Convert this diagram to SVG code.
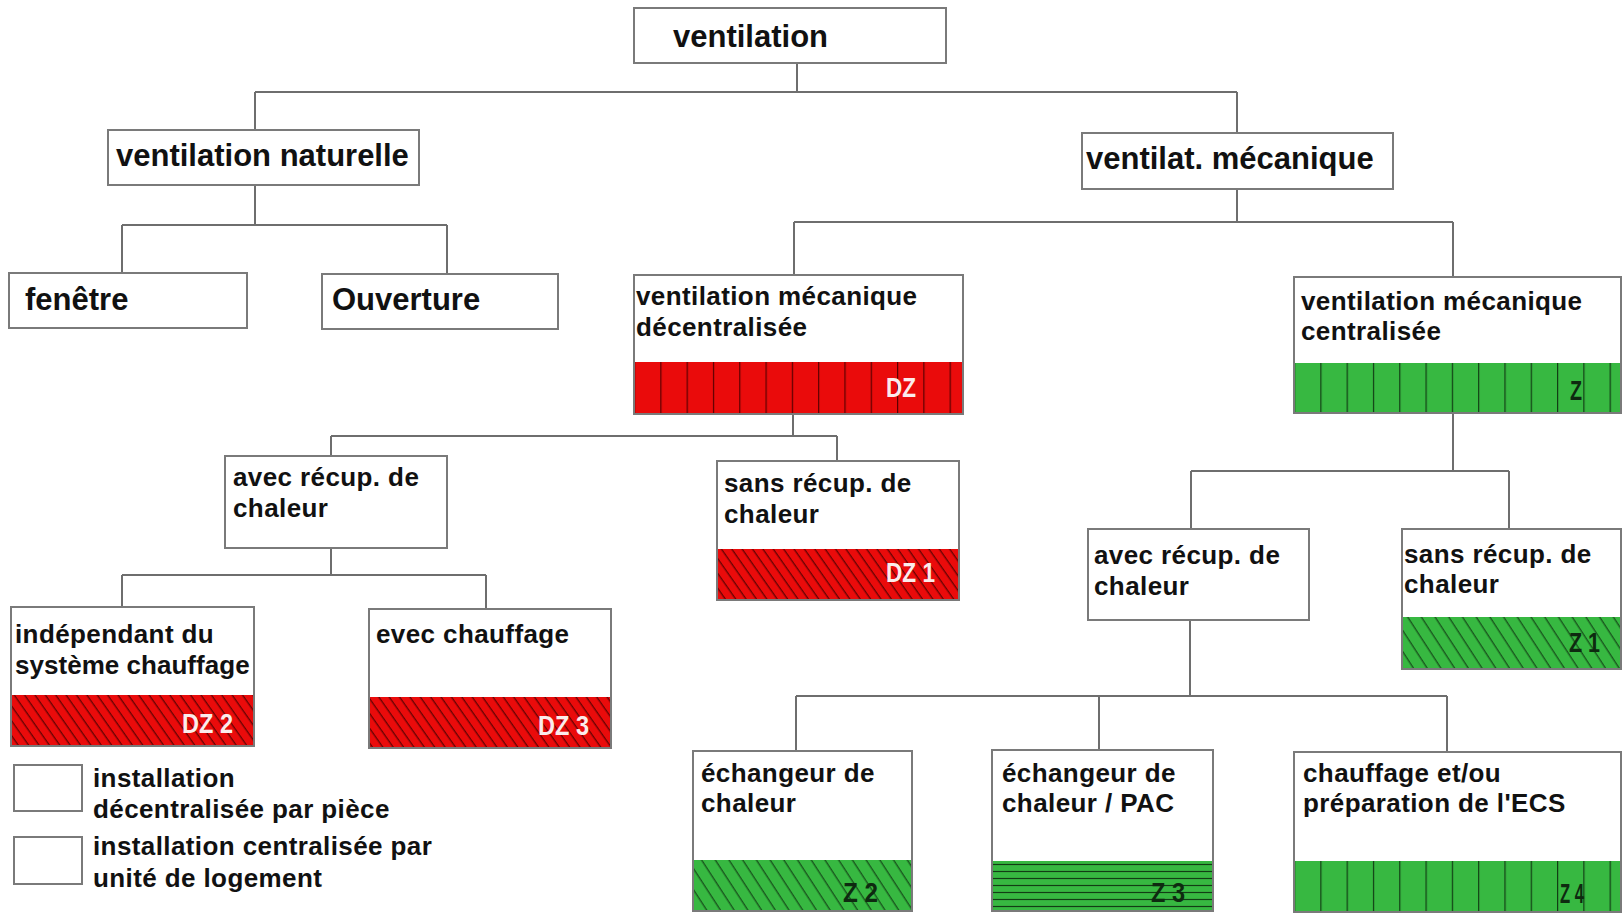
<svg xmlns="http://www.w3.org/2000/svg" width="1623" height="915" viewBox="0 0 1623 915">
<style>
.box{fill:#fff;stroke:#7a7a7a;stroke-width:2}
.conn{fill:none;stroke:#6e6e6e;stroke-width:2}
.t1{font-family:"Liberation Sans",Arial,sans-serif;font-weight:bold;font-size:31px;fill:#111}
.t2{font-family:"Liberation Sans",Arial,sans-serif;font-weight:bold;font-size:26px;letter-spacing:0.4px;fill:#111}
.cw{font-family:"Liberation Sans",Arial,sans-serif;font-weight:bold;font-size:27px;fill:#fbecec}
.cg{font-family:"Liberation Sans",Arial,sans-serif;font-weight:bold;font-size:27px;fill:#0e2a10}
</style>
<defs>
<pattern id="vsR" x="634" y="0" width="26.3" height="20" patternUnits="userSpaceOnUse">
<rect width="26.3" height="20" fill="#ea0b0b"/><line x1="0.6" y1="0" x2="0.6" y2="20" stroke="#5a0000" stroke-width="1.2"/>
</pattern>
<pattern id="vsG" x="1294" y="0" width="26.3" height="20" patternUnits="userSpaceOnUse">
<rect width="26.3" height="20" fill="#37b841"/><line x1="0.6" y1="0" x2="0.6" y2="20" stroke="#123d14" stroke-width="1.2"/>
</pattern>
<pattern id="hsG" x="0" y="861" width="20" height="7" patternUnits="userSpaceOnUse">
<rect width="20" height="7" fill="#37b841"/><line x1="0" y1="3.5" x2="20" y2="3.5" stroke="#123d14" stroke-width="1.2"/>
</pattern>
<pattern id="hR" width="8.5" height="8.5" patternUnits="userSpaceOnUse" patternTransform="rotate(-35)">
<rect width="8.5" height="8.5" fill="#ea0b0b"/><line x1="4" y1="0" x2="4" y2="8.5" stroke="#4a0000" stroke-width="1.1"/>
</pattern>
<pattern id="hG" width="11.5" height="11.5" patternUnits="userSpaceOnUse" patternTransform="rotate(-33)">
<rect width="11.5" height="11.5" fill="#37b841"/><line x1="5" y1="0" x2="5" y2="11.5" stroke="#123d14" stroke-width="1.1"/>
</pattern>
</defs>
<rect width="1623" height="915" fill="#fff"/>

<g id="connectors" class="conn">
<path d="M797,63 V92 M255,92 H1237 M255,92 V130 M1237,92 V133"/>
<path d="M255,185 V225 M122,225 H447 M122,225 V273 M447,225 V274"/>
<path d="M1237,189 V222 M794,222 H1453 M794,222 V275 M1453,222 V277"/>
<path d="M793,414 V436 M331,436 H837 M331,436 V456 M837,436 V461"/>
<path d="M331,548 V575 M122,575 H486 M122,575 V607 M486,575 V609"/>
<path d="M1453,413 V471 M1191,471 H1509 M1191,471 V529 M1509,471 V529"/>
<path d="M1190,620 V696 M796,696 H1447 M796,696 V751 M1099,696 V750 M1447,696 V752"/>
</g>

<g id="n-ventilation">
<rect class="box" x="634" y="8" width="312" height="55"/>
<text class="t1" x="673" y="47">ventilation</text>
</g>
<g id="n-naturelle">
<rect class="box" x="108" y="130" width="311" height="55"/>
<text class="t1" x="116" y="166">ventilation naturelle</text>
</g>
<g id="n-mecanique">
<rect class="box" x="1082" y="133" width="311" height="56"/>
<text class="t1" x="1086" y="169">ventilat. mécanique</text>
</g>
<g id="n-fenetre">
<rect class="box" x="9" y="273" width="238" height="55"/>
<text class="t1" x="25" y="310">fenêtre</text>
</g>
<g id="n-ouverture">
<rect class="box" x="322" y="274" width="236" height="55"/>
<text class="t1" x="332" y="310">Ouverture</text>
</g>

<g id="n-decentralisee">
<rect class="box" x="634" y="275" width="329" height="139"/>
<rect x="634" y="362" width="329" height="52" fill="url(#vsR)"/>
<rect x="634" y="275" width="329" height="139" fill="none" stroke="#7a7a7a" stroke-width="2"/>
<text class="t2" x="636" y="305">ventilation mécanique</text>
<text class="t2" x="636" y="336">décentralisée</text>
<text class="cw" x="886" y="397" textLength="30" lengthAdjust="spacingAndGlyphs">DZ</text>
</g>
<g id="n-centralisee">
<rect class="box" x="1294" y="277" width="327" height="136"/>
<rect x="1294" y="363" width="327" height="50" fill="url(#vsG)"/>
<rect x="1294" y="277" width="327" height="136" fill="none" stroke="#7a7a7a" stroke-width="2"/>
<text class="t2" x="1301" y="310">ventilation mécanique</text>
<text class="t2" x="1301" y="340">centralisée</text>
<text class="cg" x="1570" y="400" textLength="12" lengthAdjust="spacingAndGlyphs">Z</text>
</g>

<g id="n-avec-dz">
<rect class="box" x="225" y="456" width="222" height="92"/>
<text class="t2" x="233" y="486">avec récup. de</text>
<text class="t2" x="233" y="517">chaleur</text>
</g>
<g id="n-sans-dz1">
<rect class="box" x="717" y="461" width="242" height="139"/>
<rect x="717" y="549" width="242" height="51" fill="url(#hR)"/>
<rect x="717" y="461" width="242" height="139" fill="none" stroke="#7a7a7a" stroke-width="2"/>
<text class="t2" x="724" y="492">sans récup. de</text>
<text class="t2" x="724" y="523">chaleur</text>
<text class="cw" x="886" y="582" textLength="49" lengthAdjust="spacingAndGlyphs">DZ 1</text>
</g>
<g id="n-independant-dz2">
<rect class="box" x="11" y="607" width="243" height="139"/>
<rect x="11" y="695" width="243" height="51" fill="url(#hR)"/>
<rect x="11" y="607" width="243" height="139" fill="none" stroke="#7a7a7a" stroke-width="2"/>
<text class="t2" x="15" y="643">indépendant du</text>
<text class="t2" x="15" y="674" textLength="235">système chauffage</text>
<text class="cw" x="182" y="733" textLength="51" lengthAdjust="spacingAndGlyphs">DZ 2</text>
</g>
<g id="n-evec-dz3">
<rect class="box" x="369" y="609" width="242" height="139"/>
<rect x="369" y="697" width="242" height="51" fill="url(#hR)"/>
<rect x="369" y="609" width="242" height="139" fill="none" stroke="#7a7a7a" stroke-width="2"/>
<text class="t2" x="376" y="643">evec chauffage</text>
<text class="cw" x="538" y="735" textLength="51" lengthAdjust="spacingAndGlyphs">DZ 3</text>
</g>

<g id="n-avec-z">
<rect class="box" x="1088" y="529" width="221" height="91"/>
<text class="t2" x="1094" y="564">avec récup. de</text>
<text class="t2" x="1094" y="595">chaleur</text>
</g>
<g id="n-sans-z1">
<rect class="box" x="1402" y="529" width="219" height="140"/>
<rect x="1402" y="617" width="219" height="52" fill="url(#hG)"/>
<rect x="1402" y="529" width="219" height="140" fill="none" stroke="#7a7a7a" stroke-width="2"/>
<text class="t2" x="1404" y="563">sans récup. de</text>
<text class="t2" x="1404" y="593">chaleur</text>
<text class="cg" x="1569" y="652" textLength="31" lengthAdjust="spacingAndGlyphs">Z 1</text>
</g>

<g id="n-echangeur-z2">
<rect class="box" x="693" y="751" width="219" height="160"/>
<rect x="693" y="860" width="219" height="51" fill="url(#hG)"/>
<rect x="693" y="751" width="219" height="160" fill="none" stroke="#7a7a7a" stroke-width="2"/>
<text class="t2" x="701" y="782">échangeur de</text>
<text class="t2" x="701" y="812">chaleur</text>
<text class="cg" x="843" y="902" textLength="35" lengthAdjust="spacingAndGlyphs">Z 2</text>
</g>
<g id="n-pac-z3">
<rect class="box" x="992" y="750" width="221" height="161"/>
<rect x="992" y="861" width="221" height="50" fill="url(#hsG)"/>
<rect x="992" y="750" width="221" height="161" fill="none" stroke="#7a7a7a" stroke-width="2"/>
<text class="t2" x="1002" y="782">échangeur de</text>
<text class="t2" x="1002" y="812">chaleur / PAC</text>
<text class="cg" x="1151" y="902" textLength="34" lengthAdjust="spacingAndGlyphs">Z 3</text>
</g>
<g id="n-chauffage-z4">
<rect class="box" x="1294" y="752" width="327" height="160"/>
<rect x="1294" y="861" width="327" height="51" fill="url(#vsG)"/>
<rect x="1294" y="752" width="327" height="160" fill="none" stroke="#7a7a7a" stroke-width="2"/>
<text class="t2" x="1303" y="782">chauffage et/ou</text>
<text class="t2" x="1303" y="812">préparation de l'ECS</text>
<text class="cg" x="1560" y="903" textLength="24" lengthAdjust="spacingAndGlyphs">Z 4</text>
</g>

<g id="legend">
<rect class="box" x="14" y="765" width="68" height="46"/>
<rect class="box" x="14" y="837" width="68" height="47"/>
<text class="t2" x="93" y="787">installation</text>
<text class="t2" x="93" y="818">décentralisée par pièce</text>
<text class="t2" x="93" y="855">installation centralisée par</text>
<text class="t2" x="93" y="887">unité de logement</text>
</g>
</svg>
